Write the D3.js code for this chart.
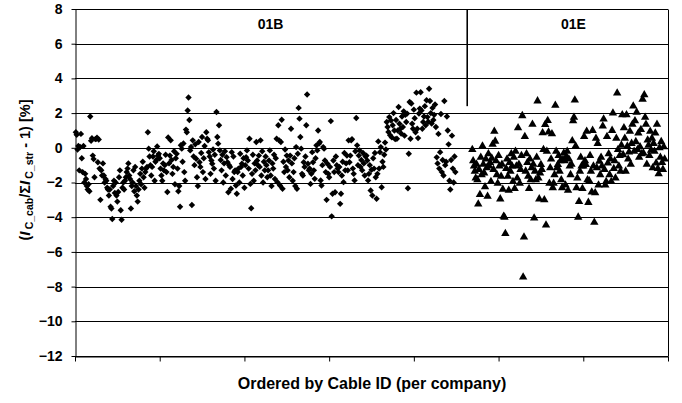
<!DOCTYPE html>
<html>
<head>
<meta charset="utf-8">
<script src="https://cdn.jsdelivr.net/npm/d3@7"></script>
<style>
  html, body { margin: 0; padding: 0; background: #fff; }
  svg text { font-family: "Liberation Sans", Arial, sans-serif; font-weight: bold; fill: #000; }
</style>
</head>
<body>
<svg id="chart" width="682" height="403"></svg>
<script>
// Companies and the cable order number where each company's run starts
const companies = ["01B", "01E"];
const firstCable = [1, 469];

// Relative deviation per cable, company 01B (cables in ID order)
const values01B = [
  0.9, 0.75, -0.1, 0.1, -1.3, 0.05, 0.8, -0.6, -1.4, 0.1, -2.0, -1.5,
  -1.8, -2.2, -2.4, -2.1, -2.5, 1.8, 0.4, 0.55, -0.45, -0.65, -1.7, 0.5,
  0.52, 0.58, -0.83, 0.48, -1.2, -3.0, -1.3, -1.6, -0.9, -1.6, -2.0, -1.8,
  -1.9, -2.3, -2.4, -2.75, -2.4, -3.4, -3.5, -4.1, -2.2, -1.9, -2.6, -2.0,
  -2.75, -3.1, -2.55, -1.7, -1.3, -3.6, -4.15, -2.3, -2.0, -2.4, -1.9,
  -1.7, -1.4, -1.2, -0.9, -1.6, -1.8, -3.5, -2.2, -2.0, -1.3, -2.5, -1.1,
  -2.2, -2.75, -3.1, -2.4, -1.9, -1.5, -2.1, -1.2, -0.8, -1.7, -2.3, -1.4,
  -1.2, -1.1, 0.9, -0.05, -0.5, -1.0, -1.6, -1.1, -0.5, -0.2, -1.9, -0.8,
  -0.7, 0.08, -0.45, -0.35, -0.6, -1.2, -1.6, -1.9, -0.9, -1.3, -1.0, -0.4,
  -1.4, -2.55, 0.6, -0.9, -0.45, 0.43, -0.7, -1.5, -1.1, -0.2, -2.1, -0.6,
  -0.35, -1.2, -2.5, -2.2, -3.4, 0.15, -0.05, -0.8, 0.25, -1.4, -1.9,
  1.05, 0.9, 2.15, 2.9, 1.6, -0.15, 0.05, -3.3, 0.43, -0.5, -1.0, 0.2,
  -0.63, -1.7, -2.2, 0.33, -0.83, -1.1, -0.3, 0.62, -1.4, -0.6, 0.1, -1.8,
  0.9, 0.52, 0.43, -0.25, -0.5, -1.5, -0.73, -0.92, -0.1, -1.2, -0.4, -1.9,
  2.06, 0.62, 0.24, 1.3, -0.15, -0.7, -1.3, -0.4, -2.0, -0.9, -0.2, -1.6,
  -0.54, -0.83, -2.56, -1.0, -1.1, -2.36, -0.25, -1.8, -0.5, -1.4, -1.3,
  -2.17, -2.65, -1.4, -1.2, -2.0, -0.34, -1.1, -0.92, -1.6, -0.6, -2.3, -1.0,
  -0.54, -0.15, -0.73, -1.2, 0.52, -2.08, -3.48, -1.5, -0.4, -1.9, -0.9, -1.3,
  0.33, -0.73, -1.0, -0.45, -1.1, 0.43, -1.6, -0.2, -2.0, -0.8, -1.3, -0.5,
  -1.0, -1.7, -1.3, -0.73, -0.15, -1.6, -2.2, -0.9, -1.2, -0.4, -1.8, -0.6,
  0.52, -1.98, 1.3, 0.43, -2.17, 0.33, 1.62, -2.36, -0.8, -1.4, -0.1, -1.1,
  -0.45, -1.3, -0.73, -1.7, -0.45, 1.1, -0.9, -1.9, -1.4, -0.6, -2.2,
  0.04, -2.36, -0.34, 2.3, 1.68, 0.62, -0.05, -1.5, -1.6, -0.83, -1.1, -0.5,
  1.3, 3.07, -0.92, -1.3, -1.2, -2.08, -1.5, -0.25, -0.83, -1.3, -1.79, -0.6,
  0.14, -0.15, 1.0, 0.24, 0.33, -1.88, -2.17, -1.0, 0.04, -0.05, -0.73, -1.4,
  -3.0, -0.92, -1.5, -1.7, -1.1, 1.54, -3.95, -2.65, -0.73, -1.4, -2.56, -0.5,
  -1.0, -1.2, -1.4, -1.1, -3.23, -2.65, -1.6, -0.8, -1.98, -0.3, -1.3, -0.9,
  -0.45, -1.3, 0.43, -0.83, -0.45, 0.43, 0.5, -1.2, -1.5, -1.88, -0.2,
  1.72, 0.14, -1.0, -0.45, -0.15, -1.1, -0.7, -1.3, -0.3, -0.9, -1.6, -0.5,
  -0.45, -0.73, -1.88, -1.5, -1.0, -2.46, -1.27, -2.75, -0.6, -1.2, -0.3, -1.7,
  -2.94, -1.5, 0.37, -1.2, -0.25, 0.04, -2.27, -0.8, -1.1, -0.4, 0.3, -0.1,
  1.49, 1.2, 0.91, 1.77, 0.72, 1.58, 0.6, 1.3, 2.0, 1.0, 0.5, 1.6,
  0.52, 1.0, 2.35, 1.39, 1.1, 0.82, 1.8, 1.2, 2.1, 0.7, 1.9,
  1.49, 1.97, -2.33, -0.34, 2.64, 0.52, 2.55, 1.39, 1.1, 2.2, 1.7, 0.9,
  3.18, 1.1, 0.56, 1.97, 2.26, 3.2, 2.15, 1.1, 1.49, 1.8, 2.4, 1.3,
  2.74, 1.77, 1.5, 3.4, 2.7, 2.0, 1.4, 2.3, 1.6, 1.9, 2.5, 1.2,
  -0.55, -0.9, 0.8, -1.2, -0.25, 1.95, -1.4, -0.7, -1.6, 2.7, -1.0, -0.8,
  1.8, 1.0, 0.2, -1.9, -2.4, -0.7, 0.7, -1.2, -2.0, -0.5, -1.4
];

// Relative deviation per cable, company 01E (cables in ID order)
const values01E = [
  -0.05, -0.7, -1.0, -1.3, -1.7, -0.9, -1.8, -3.2, -1.2, -2.65, -0.5, -1.5,
  0.15, -0.9, -1.4, -2.2, -0.6, -1.1, -2.75, -0.3, -1.0, -0.8, -1.9, -0.55,
  0.25, -1.2, 1.0, 0.43, -0.7, -1.5, -2.0, -0.4, -1.0, -2.9, -1.6, -0.9,
  -2.35, -3.9, -3.95, -4.9, -1.15, -0.6, -1.6, -2.4, -0.8, -1.3, -0.3, -1.0,
  -1.9, -0.5, -2.3, -0.15, -1.0, -1.7, 1.2, -0.9, -2.0, -1.2, -0.4,
  1.9, -7.4, -5.1, 0.7, -1.3, -0.3, -0.8, -1.6, -2.3, -0.6, -1.8, -1.1,
  1.4, -0.9, -4.0, -1.3, -1.8, -0.5, 2.75, -1.7, -2.9, -1.4, -0.92, -1.2,
  0.91, -0.05, -2.95, 1.39, -4.4, -0.15, 1.62, 0.95, -2.0, -1.1, -0.6,
  0.85, -2.25, -2.0, -1.5, 2.5, -0.15, -1.1, -0.92, -0.4, -1.3, -0.7, -1.8,
  -2.25, -0.63, -0.25, -0.7, -2.1, -0.45, -0.15, -2.4, -0.6, -1.0, -1.5, -0.9,
  0.45, 1.6, 1.8, 2.8, 0.15, -2.25, -1.7, -3.95, -3.05, -1.3, -0.5, -1.0,
  -2.3, -1.0, 0.7, -0.7, -0.92, 1.0, -1.8, -3.1, -1.85, -0.4, -1.3, -2.5,
  1.05, -1.0, -4.25, -2.55, 0.6, -1.1, 0.3, -2.1, -0.73, -1.5, -0.5,
  -1.0, 1.3, 1.7, -1.2, -2.1, -1.9, 0.7, -0.83, -0.3, -1.5, -0.6, -1.9,
  1.05, 2.05, -1.15, -0.7, -1.7, 0.6, 3.2, -0.05, -1.0, -0.4, -1.3, 0.2,
  1.95, -0.35, 1.2, 0.6, -1.3, 1.95, 0.14, -0.6, -0.2, 1.0, -0.9, 0.3,
  1.4, 2.45, -0.15, 1.6, 0.4, 2.1, -0.05, 0.9, -0.5, 0.1, 1.1, -0.3,
  2.85, -0.25, 3.1, 1.8, 1.4, -0.9, 0.5, 0.2, -0.4, 1.0, -0.1, 0.6,
  -1.1, 0.3, -0.15, 0.9, -0.83, 1.4, -1.15, -1.45, 0.05, -0.5, 0.4, -0.8,
  -1.2, 0.1, -0.6
];

// Axis ticks
const yTickValues = [8, 6, 4, 2, 0, -2, -4, -6, -8, -10, -12];
const xTickValues = [0, 100, 200, 300, 400, 500, 600, 700];

// Boundary marker between the two companies (cable position, from/to value)
const dividerCable = 463;
const dividerSpan = [8, 2.4];

// Layout
const W = 682, H = 403;
const margin = { top: 9, right: 14, bottom: 47, left: 75 };
const svg = d3.select("#chart");

const x = d3.scaleLinear().domain([0, 700]).range([margin.left, W - margin.right]);
const y = d3.scaleLinear().domain([-12, 8]).range([H - margin.bottom, margin.top]);

// Horizontal gridlines
svg.append("g")
  .selectAll("line")
  .data(yTickValues)
  .join("line")
  .attr("x1", x(0)).attr("x2", x(700))
  .attr("y1", d => Math.round(y(d)) + 0.5).attr("y2", d => Math.round(y(d)) + 0.5)
  .attr("stroke", "#000").attr("stroke-width", 1.1);

// Right border of the plot area
svg.append("line")
  .attr("x1", Math.round(x(700)) + 0.5).attr("x2", Math.round(x(700)) + 0.5)
  .attr("y1", Math.round(y(8)) + 0.5).attr("y2", Math.round(y(-12)) + 0.5)
  .attr("stroke", "#000");

// Y axis
const yAxis = svg.append("g")
  .attr("transform", `translate(${Math.round(x(0)) + 0.5},0)`)
  .call(d3.axisLeft(y).tickValues(yTickValues).tickSizeInner(4).tickSizeOuter(0).tickPadding(9)
    .offset(0.5));
yAxis.select(".domain").attr("stroke", "#000");
yAxis.selectAll(".tick line").attr("stroke", "#000");
yAxis.selectAll(".tick text").attr("font-size", "14px").attr("font-family", null);

// X axis (unlabelled ticks)
const xAxis = svg.append("g")
  .attr("transform", `translate(0,${Math.round(y(-12)) + 0.5})`)
  .call(d3.axisBottom(x).tickValues(xTickValues).tickSizeInner(5).tickSizeOuter(0).tickFormat(""));
xAxis.select(".domain").attr("stroke", "#000");
xAxis.selectAll(".tick line").attr("stroke", "#000");

// Company divider
svg.append("line")
  .attr("x1", x(dividerCable)).attr("x2", x(dividerCable))
  .attr("y1", y(dividerSpan[0])).attr("y2", y(dividerSpan[1]))
  .attr("stroke", "#000").attr("stroke-width", 1.6);

// Markers
const diamond = "M0,-3.2L3.2,0L0,3.2L-3.2,0Z";
const triangle = "M0,-4L4.2,3.3L-4.2,3.3Z";

const pts01B = values01B.map((v, k) => ({ cable: firstCable[0] + k, value: v }));
const pts01E = values01E.map((v, k) => ({ cable: firstCable[1] + k, value: v }));

svg.append("g")
  .selectAll("path")
  .data(pts01B)
  .join("path")
  .attr("d", diamond)
  .attr("transform", d => `translate(${x(d.cable)},${y(d.value)})`)
  .attr("fill", "#000");

svg.append("g")
  .selectAll("path")
  .data(pts01E)
  .join("path")
  .attr("d", triangle)
  .attr("transform", d => `translate(${x(d.cable)},${y(d.value)})`)
  .attr("fill", "#000");

// Company labels, centred over each company's run
const runs = [
  [firstCable[0], firstCable[0] + values01B.length - 1],
  [firstCable[1], firstCable[1] + values01E.length - 1]
];
svg.append("g")
  .selectAll("text")
  .data(companies)
  .join("text")
  .attr("x", (d, i) => x((runs[i][0] + runs[i][1]) / 2) + 5)
  .attr("y", y(8) + 20)
  .attr("text-anchor", "middle")
  .attr("font-size", "14px")
  .text(d => d);

// X axis title
svg.append("text")
  .attr("x", 372).attr("y", 389)
  .attr("text-anchor", "middle")
  .attr("font-size", "16px")
  .text("Ordered by Cable ID (per company)");

// Y axis title with subscripts
const yTitle = svg.append("text")
  .attr("transform", "translate(30,170) rotate(-90)")
  .attr("text-anchor", "middle")
  .attr("font-size", "14.5px");
yTitle.append("tspan").text("(");
yTitle.append("tspan").attr("font-style", "italic").attr("font-size", "15.5px").text("I");
yTitle.append("tspan").attr("font-size", "10.5px").attr("dx", 2).attr("dy", 3).text("C_cab");
yTitle.append("tspan").attr("dy", -3).text("/\u03A3");
yTitle.append("tspan").attr("font-style", "italic").attr("font-size", "15.5px").text("I");
yTitle.append("tspan").attr("font-size", "10.5px").attr("dx", 2).attr("dy", 3).text("C_str");
yTitle.append("tspan").attr("dy", -3).text(" - 1) [%]");
</script>
</body>
</html>
